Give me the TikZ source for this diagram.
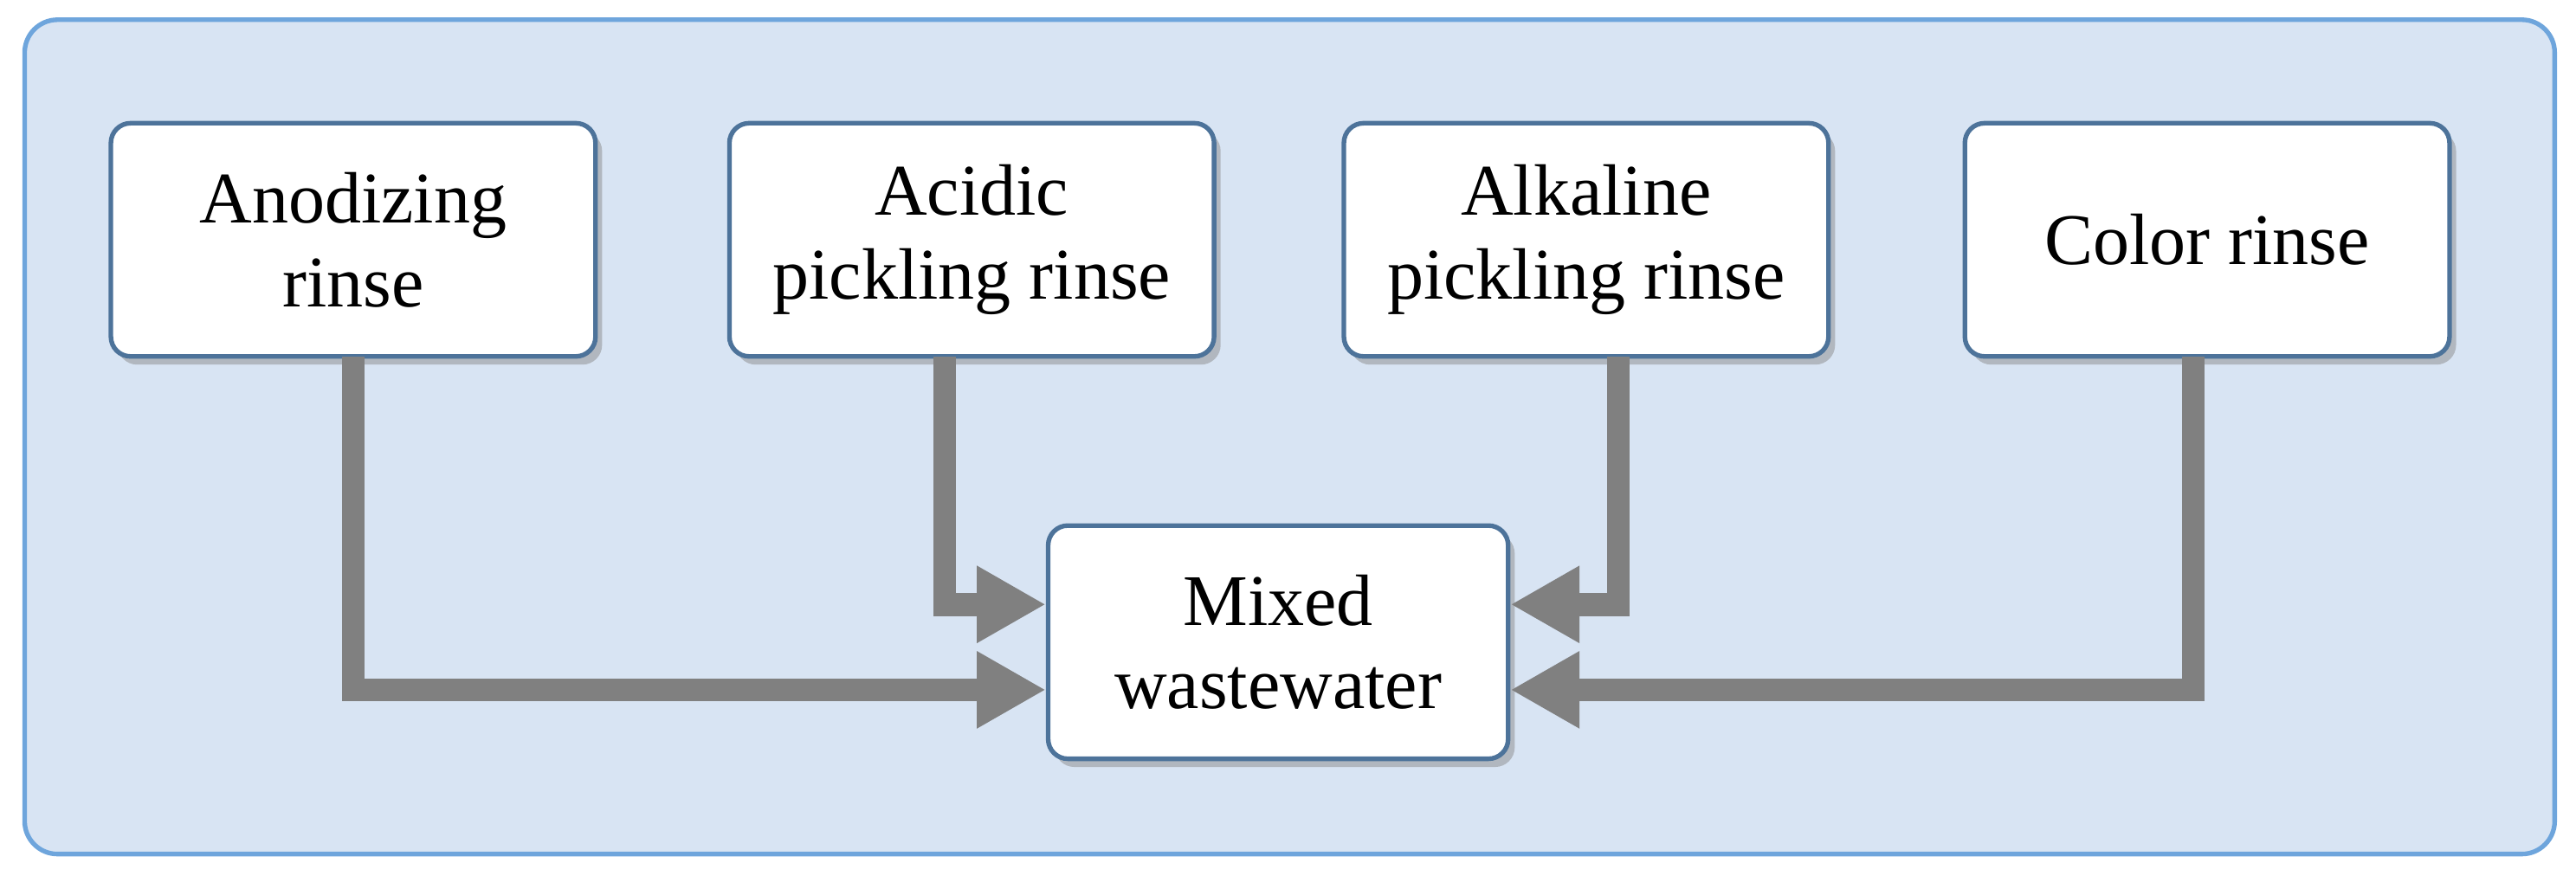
\documentclass[tikz,border=0pt]{standalone}
\usepackage{fontspec}
\setmainfont{Liberation Serif}
\usetikzlibrary{arrows.meta,shadows}
\definecolor{bgblue}{RGB}{216,228,243}
\definecolor{bdblue}{RGB}{110,165,220}
\definecolor{arr}{RGB}{128,128,128}
\tikzset{
 box/.style={draw=bdblue!70!black, line width=0.8pt, fill=white, rounded corners=0.12cm,
   minimum width=2.95cm, minimum height=1.42cm, align=center, inner sep=0pt,
   font=\fontsize{12.6}{14.5}\selectfont, drop shadow={shadow xshift=0.04cm,shadow yshift=-0.05cm,fill=black!45}},
 flow/.style={draw=arr, line width=0.14cm, -{Triangle[length=0.42cm,width=0.44cm]}}
}
\begin{document}
\begin{tikzpicture}
\useasboundingbox (0,0) rectangle (15.68,-5.33);
\draw[bdblue, fill=bgblue, line width=0.8pt, rounded corners=0.2cm] (0.15,-0.12) rectangle (15.55,-5.2);
\node[box] (a) at (2.15,-1.46) {Anodizing\\rinse};
\node[box] (b) at (5.915,-1.46) {Acidic\\pickling rinse};
\node[box] (c) at (9.655,-1.46) {Alkaline\\pickling rinse};
\node[box] (d) at (13.435,-1.46) {Color rinse};
\node[box, minimum width=2.8cm] (m) at (7.78,-3.91) {Mixed\\wastewater};
\draw[flow] (2.15,-2.17) |- (m.west |- 0,-4.2);
\draw[flow] (5.75,-2.17) |- (m.west |- 0,-3.68);
\draw[flow] (9.85,-2.17) |- (m.east |- 0,-3.68);
\draw[flow] (13.35,-2.17) |- (m.east |- 0,-4.2);
\end{tikzpicture}
\end{document}
